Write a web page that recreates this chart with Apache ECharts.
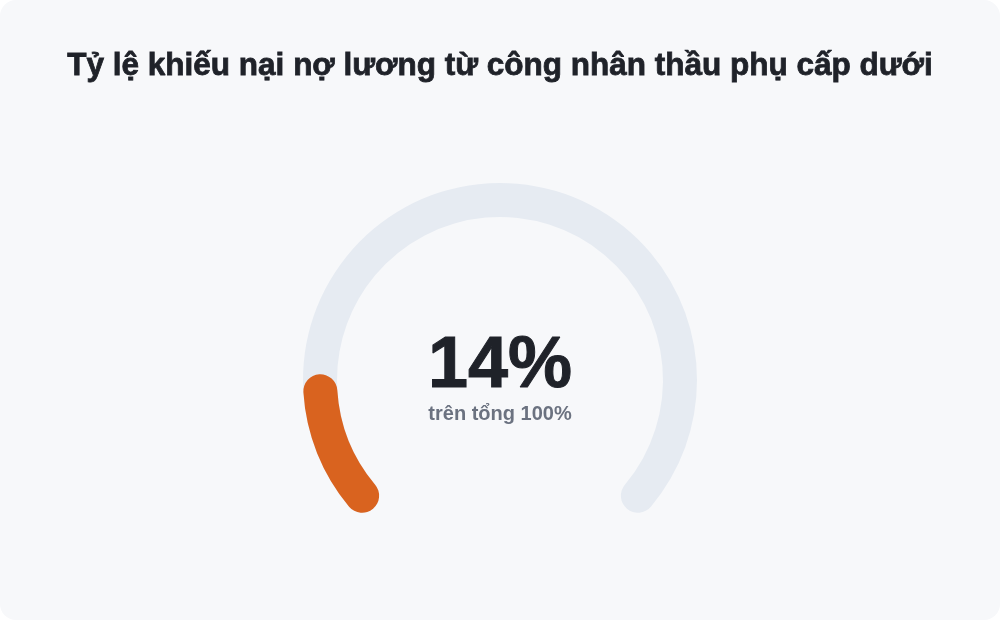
<!DOCTYPE html>
<html>
<head>
<meta charset="utf-8">
<script src="https://cdn.jsdelivr.net/npm/echarts@6/dist/echarts.min.js"></script>
<style>
  html, body { margin: 0; padding: 0; background: #ffffff; }
  .card {
    width: 1000px; height: 620px;
    background: #f7f8fa;
    border-radius: 16px;
    overflow: hidden;
  }
  .gauge { width: 1000px; height: 620px; }
</style>
</head>
<body>
<div class="card"><div class="gauge"></div></div>
<script>
// dữ liệu
var chartTitle = 'Tỷ lệ khiếu nại nợ lương từ công nhân thầu phụ cấp dưới';
var gaugeValue = [14];
var gaugeTotal = [0, 100];
var subLabel = 'trên tổng 100%';

var myChart = echarts.init(document.querySelector('.gauge'));
var option = {
  backgroundColor: 'transparent',
  title: {
    text: chartTitle,
    left: 'center',
    top: 45,
    textStyle: {
      fontFamily: '"Liberation Sans", Arial, sans-serif',
      fontSize: 31.5,
      fontWeight: 'bold',
      color: '#1f2229',
      textBorderColor: '#1f2229',
      textBorderWidth: 0.8
    }
  },
  series: [
    {
      type: 'gauge',
      center: [500, 380],
      radius: 197,
      startAngle: 220,
      endAngle: -40,
      min: gaugeTotal[0],
      max: gaugeTotal[1],
      pointer: { show: false },
      progress: {
        show: true,
        roundCap: true,
        width: 34,
        itemStyle: { color: '#d9631f' }
      },
      axisLine: {
        roundCap: true,
        lineStyle: { width: 34, color: [[1, '#e6ebf2']] }
      },
      axisTick: { show: false },
      splitLine: { show: false },
      axisLabel: { show: false },
      anchor: { show: false },
      title: {
        offsetCenter: [0, 34],
        fontFamily: '"Liberation Sans", Arial, sans-serif',
        fontSize: 20,
        fontWeight: 'bold',
        color: '#6b7280'
      },
      detail: {
        valueAnimation: false,
        offsetCenter: [0, -13],
        formatter: '{value}%',
        fontFamily: '"Liberation Sans", Arial, sans-serif',
        fontSize: 72,
        fontWeight: 'bold',
        color: '#1f2229',
        textBorderColor: '#1f2229',
        textBorderWidth: 1
      },
      data: [{ value: gaugeValue[0], name: subLabel }]
    }
  ]
};
myChart.setOption(option);
window.addEventListener('resize', function () {
  myChart.resize();
});
</script>
</body>
</html>
